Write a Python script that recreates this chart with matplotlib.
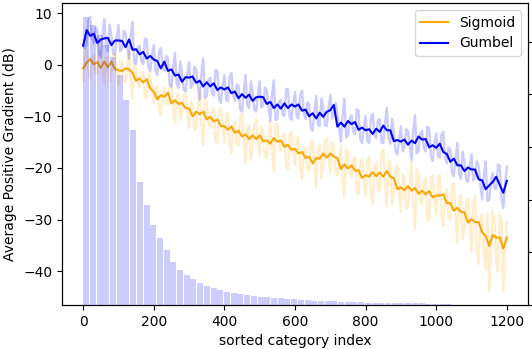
import matplotlib
matplotlib.use("Agg")
import matplotlib.pyplot as plt
import numpy as np

# category frequency, one value per block of 19 sorted categories
block_size = 19
block_counts = [5460, 5320, 5130, 4940, 4700, 4370, 3900, 3330, 2340, 1900,
                1520, 1270, 1050, 820, 665, 570, 495, 420, 360, 323,
                285, 247, 228, 209, 190, 171, 152, 143, 133, 124,
                114, 105, 95, 86, 80, 76, 70, 67, 61, 57,
                53, 49, 46, 42, 40, 38, 36, 34, 32, 30,
                29, 27, 25, 23, 21]

# raw per-category gradient (every 5th category)
raw_idx = np.arange(0, 1201, 5)
gumbel_raw = [
    4.0, 3.2, 3.8, 8.7, 9.3, 5.1, 4.2, 7.2, 6.6, 2.0,
    1.5, 5.9, 8.9, 3.5, 2.6, 7.8, 5.5, 2.2, 1.9, 5.2,
    7.7, 2.6, 3.1, 6.6, 6.0, 3.4, 1.2, 6.0, 8.3, 0.4,
    0.2, 3.4, 3.7, 0.6, 0.1, 5.1, 4.9, -0.6, -1.3, 1.9,
    3.8, -1.2, -2.0, 2.5, 3.2, -0.8, -1.2, 1.7, 1.2, -3.7,
    -4.3, -0.6, 2.3, -3.7, -4.5, 0.6, -1.6, -4.9, -5.2, -2.0,
    0.5, -4.5, -3.8, -0.4, -0.9, -4.1, -6.8, -1.6, 1.2, -6.4,
    -6.2, -2.9, -2.5, -5.6, -6.0, -1.0, -1.2, -6.7, -7.4, -4.1,
    -2.0, -6.7, -7.1, -2.4, -1.6, -6.1, -7.0, -3.8, -4.1, -8.7,
    -9.1, -5.2, -2.0, -7.8, -8.4, -3.2, -5.3, -8.7, -9.1, -5.8,
    -3.2, -8.3, -7.8, -4.4, -5.0, -8.2, -10.9, -5.8, -3.0, -10.7,
    -10.5, -7.2, -6.8, -9.7, -9.9, -4.7, -4.7, -10.1, -10.7, -7.4,
    -5.3, -10.0, -10.4, -5.8, -5.0, -9.6, -10.5, -7.3, -7.6, -12.3,
    -12.8, -9.0, -6.0, -11.6, -11.9, -6.5, -8.4, -11.7, -11.9, -8.5,
    -5.8, -10.4, -9.3, -7.4, -9.4, -12.4, -14.9, -9.6, -6.6, -14.1,
    -13.7, -10.3, -9.8, -13.0, -13.5, -8.6, -8.9, -14.5, -15.2, -12.0,
    -9.9, -14.7, -15.2, -10.4, -9.5, -13.7, -14.2, -10.7, -10.6, -15.0,
    -15.2, -11.4, -8.3, -14.4, -15.3, -10.5, -13.1, -16.8, -17.4, -14.3,
    -11.9, -16.8, -16.0, -12.5, -12.9, -15.9, -18.4, -12.9, -9.8, -17.2,
    -16.7, -13.3, -12.8, -16.2, -16.8, -12.0, -12.3, -17.9, -18.6, -15.4,
    -13.3, -17.8, -18.0, -13.6, -13.0, -17.9, -19.1, -16.0, -16.4, -21.1,
    -21.6, -18.0, -15.1, -21.2, -22.1, -16.8, -18.9, -22.3, -22.7, -19.6,
    -17.3, -22.4, -21.8, -18.7, -19.6, -23.1, -26.1, -21.2, -18.7, -26.4,
    -26.2, -22.2, -21.0, -23.9, -24.1, -19.3, -19.6, -26.1, -27.8, -23.2,
    -19.7]
sigmoid_raw = [
    -3.0, 1.7, 3.0, -1.6, -2.8, 1.2, 1.8, -1.5, -1.7, 2.5,
    2.9, -0.8, -3.7, 1.4, 1.5, -3.2, -1.3, 1.8, 2.1, -1.3,
    -4.0, 0.7, 0.3, -3.3, -3.4, -0.2, 2.6, -3.0, -6.5, 0.2,
    -0.5, -3.7, -4.4, -1.7, -1.4, -6.3, -6.5, -1.8, -1.9, -5.2,
    -7.5, -4.2, -4.1, -8.7, -9.8, -5.5, -4.5, -7.6, -7.6, -4.0,
    -4.0, -8.0, -11.2, -5.9, -5.6, -10.7, -9.3, -6.0, -5.5, -8.8,
    -12.3, -6.9, -8.2, -12.7, -12.5, -8.5, -5.0, -11.7, -15.5, -6.6,
    -7.4, -11.4, -12.3, -8.8, -8.4, -15.0, -15.3, -8.8, -8.4, -12.4,
    -15.0, -9.9, -9.3, -15.5, -17.1, -11.7, -11.0, -15.4, -15.6, -10.1,
    -9.5, -14.8, -19.1, -12.2, -11.8, -18.3, -16.0, -11.6, -10.6, -14.6,
    -17.5, -11.9, -13.0, -17.9, -18.1, -14.1, -10.7, -17.1, -20.6, -11.3,
    -11.7, -15.9, -16.9, -13.6, -13.3, -19.9, -20.2, -13.5, -13.0, -16.9,
    -19.4, -14.4, -13.9, -20.2, -22.0, -16.6, -15.9, -20.3, -20.6, -15.2,
    -14.7, -19.7, -23.7, -16.4, -15.6, -21.9, -19.5, -15.1, -14.2, -18.1,
    -21.0, -15.1, -16.0, -21.1, -21.5, -18.3, -15.6, -22.1, -25.7, -16.4,
    -16.9, -20.9, -21.7, -18.3, -17.9, -24.7, -25.2, -18.7, -18.4, -22.2,
    -25.3, -18.7, -17.7, -25.2, -27.0, -20.1, -18.9, -24.2, -24.3, -17.1,
    -16.3, -22.5, -27.5, -18.9, -18.5, -27.1, -24.7, -19.9, -19.5, -24.7,
    -28.6, -21.2, -22.1, -27.9, -27.6, -22.9, -18.7, -27.1, -31.8, -20.3,
    -21.1, -26.1, -27.1, -22.5, -21.9, -30.0, -30.2, -21.9, -21.4, -26.2,
    -29.2, -22.5, -21.4, -29.2, -31.3, -24.9, -24.1, -29.8, -30.2, -23.4,
    -22.9, -29.4, -34.6, -25.9, -25.3, -33.8, -31.3, -26.4, -26.0, -31.0,
    -36.3, -26.4, -25.3, -35.8, -38.6, -30.0, -28.9, -36.7, -39.6, -28.7,
    -43.9, -35.9, -28.3, -30.3, -38.3, -40.3, -28.9, -30.3, -43.8, -35.6,
    -30.5]

# smoothed curves (every 10th category)
smooth_idx = np.arange(0, 1201, 10)
gumbel_smooth = [
    3.7, 6.7, 5.6, 6.0, 4.2, 4.9, 5.1, 5.2, 3.8, 4.7,
    4.7, 4.6, 3.4, 4.9, 2.9, 3.0, 2.0, 2.5, 1.2, 1.7,
    1.0, 0.7, -0.7, 0.6, -1.2, -0.9, -2.1, -1.9, -3.3, -2.4,
    -2.5, -2.3, -3.5, -3.1, -4.2, -3.4, -4.2, -3.6, -4.9, -4.4,
    -4.8, -4.4, -5.5, -5.2, -6.5, -5.7, -6.4, -5.8, -7.0, -6.3,
    -6.2, -6.3, -7.6, -7.2, -8.4, -7.7, -8.5, -7.5, -8.4, -7.7,
    -8.1, -7.7, -8.9, -8.7, -10.0, -9.4, -10.4, -9.3, -10.1, -9.1,
    -8.8, -7.8, -12.0, -11.2, -12.0, -10.9, -11.5, -11.1, -12.6, -12.2,
    -12.7, -12.5, -13.4, -12.4, -13.0, -11.8, -12.7, -12.7, -14.8, -14.6,
    -14.9, -14.5, -15.5, -14.7, -15.2, -13.9, -14.5, -14.4, -16.0, -15.6,
    -16.1, -15.3, -16.9, -17.3, -18.8, -18.2, -19.5, -19.5, -20.6, -19.9,
    -20.3, -20.3, -22.2, -22.4, -24.1, -23.4, -22.7, -21.7, -23.3, -24.8,
    -22.5]
sigmoid_smooth = [
    -0.7, 0.4, 1.1, 0.1, 0.5, -0.6, 0.6, -0.5, 0.6, -0.8,
    -1.1, -1.2, -0.7, -0.9, -1.6, -3.1, -2.7, -3.4, -2.8, -4.6,
    -5.2, -6.7, -5.9, -6.2, -5.4, -7.5, -6.9, -7.6, -7.4, -8.4,
    -8.5, -10.0, -9.1, -9.6, -9.1, -10.6, -10.1, -11.0, -10.6, -11.9,
    -11.9, -12.6, -12.0, -13.2, -12.8, -13.9, -13.5, -14.4, -13.7, -14.4,
    -13.7, -14.8, -14.7, -15.3, -14.2, -14.9, -14.7, -15.9, -15.5, -16.5,
    -16.3, -17.2, -16.9, -18.1, -17.8, -19.1, -18.1, -18.2, -17.2, -18.0,
    -17.2, -17.8, -18.1, -20.2, -19.3, -20.1, -19.5, -20.5, -20.5, -21.9,
    -21.4, -21.7, -20.8, -21.6, -20.9, -21.7, -20.6, -21.7, -22.0, -24.1,
    -23.8, -24.3, -23.5, -24.4, -23.9, -25.0, -24.4, -25.1, -24.5, -25.7,
    -25.3, -25.4, -25.1, -26.8, -26.8, -28.3, -27.7, -28.5, -28.6, -30.6,
    -29.9, -30.5, -30.5, -32.4, -33.2, -35.1, -33.0, -33.5, -33.5, -35.6,
    -33.5]

fig, ax = plt.subplots(figsize=(5.32, 3.49), dpi=100)
fig.subplots_adjust(left=0.1165, right=0.9925, bottom=0.126, top=0.9914)

ax.plot(raw_idx, sigmoid_raw, color='orange', alpha=0.2, lw=1.7)
ax.plot(raw_idx, gumbel_raw, color='blue', alpha=0.2, lw=1.7)
ax.plot(smooth_idx, sigmoid_smooth, color='orange', lw=1.5, label='Sigmoid')
ax.plot(smooth_idx, gumbel_smooth, color='blue', lw=1.5, label='Gumbel')
ax.set_xlabel('sorted category index')
ax.set_ylabel('Average Positive Gradient (dB)')
ax.legend(loc='upper right')

# category counts on a twin axis (labels fall outside the figure)
ax2 = ax.twinx()
block_pos = np.arange(len(block_counts)) * block_size
ax2.bar(block_pos, block_counts, width=block_size - 2, align='edge',
        color='blue', alpha=0.2, linewidth=0)
ax2.tick_params(axis='y', labelright=False)

fig.savefig('out.png', dpi=100)
